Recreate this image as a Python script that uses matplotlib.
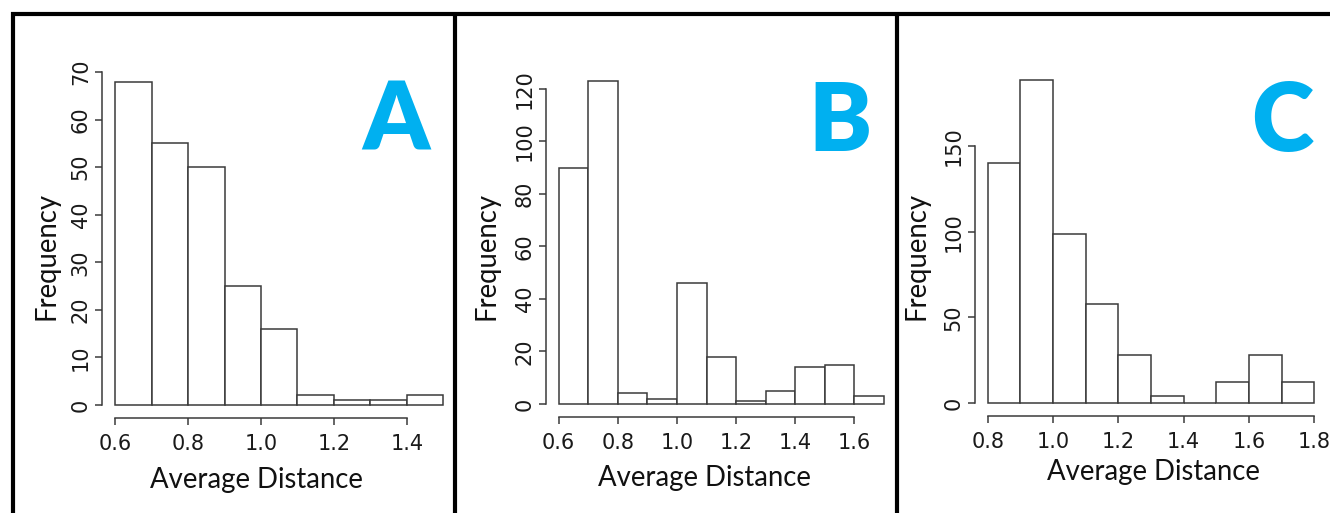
import numpy as np
import matplotlib
matplotlib.use("Agg")
import matplotlib.pyplot as plt
from matplotlib.lines import Line2D

# ---------------- data ----------------
a_edges = [0.6, 0.7, 0.8, 0.9, 1.0, 1.1, 1.2, 1.3, 1.4, 1.5]
a_counts = [68, 55, 50, 25, 16, 2, 1, 1, 2]
a_xticks = [0.6, 0.8, 1.0, 1.2, 1.4]
a_yticks = [0, 10, 20, 30, 40, 50, 60, 70]

b_edges = [0.6, 0.7, 0.8, 0.9, 1.0, 1.1, 1.2, 1.3, 1.4, 1.5, 1.6, 1.7]
b_counts = [90, 123, 4, 2, 46, 18, 1, 5, 14, 15, 3]
b_xticks = [0.6, 0.8, 1.0, 1.2, 1.4, 1.6]
b_yticks = [0, 20, 40, 60, 80, 100, 120]

c_edges = [0.8, 0.9, 1.0, 1.1, 1.2, 1.3, 1.4, 1.5, 1.6, 1.7, 1.8]
c_counts = [140, 189, 99, 58, 28, 4, 0, 12, 28, 12]
c_xticks = [0.8, 1.0, 1.2, 1.4, 1.6, 1.8]
c_yticks = [0, 50, 100, 150]

panel_letters = ["A", "B", "C"]
x_label = "Average Distance"
y_label = "Frequency"

# ---------------- layout (pixels) ----------------
W, H = 1330, 513
DPI = 100
fig = plt.figure(figsize=(W / DPI, H / DPI), dpi=DPI)
fig.patch.set_facecolor("white")

def px_rect(left, top, right, bottom):
    return [left / W, 1 - bottom / H, (right - left) / W, (bottom - top) / H]

# plot regions (left, top, right, bottom) in pixels
rects = [
    (101.9, 68.6, 456.6, 417.9),
    (545.7, 68.2, 897.0, 416.9),
    (974.6, 66.7, 1327.4, 415.9),
]
letter_pos = [(396, 151), (840, 151), (1282, 151)]
xlab_pos = [(256, 488), (704, 486), (1153, 480)]
ylab_pos = [(54, 256), (494, 256), (925, 256)]

LINE = "#3a3a3a"
BLUE = "#00B0F0"
TICK_FONT = "DejaVu Sans"
LABEL_FONT = ["Lato", "DejaVu Sans"]

panels = [
    (a_edges, a_counts, a_xticks, a_yticks),
    (b_edges, b_counts, b_xticks, b_yticks),
    (c_edges, c_counts, c_xticks, c_yticks),
]

for i, (edges, counts, xt, yt) in enumerate(panels):
    ax = fig.add_axes(px_rect(*rects[i]))
    ax.set_facecolor("none")
    edges = np.asarray(edges)
    counts = np.asarray(counts)
    ax.hist(edges[:-1] + 0.05, bins=edges, weights=counts,
            facecolor="white", edgecolor=LINE, linewidth=1.1)
    rng = edges[-1] - edges[0]
    ax.set_xlim(edges[0] - 0.04 * rng, edges[-1] + 0.04 * rng)
    ymax = counts.max()
    ax.set_ylim(-0.04 * ymax, 1.04 * ymax)
    for s in ("top", "right"):
        ax.spines[s].set_visible(False)
    for s in ("left", "bottom"):
        ax.spines[s].set_color(LINE)
        ax.spines[s].set_linewidth(1.1)
    ax.spines["bottom"].set_bounds(xt[0], xt[-1])
    ax.spines["left"].set_bounds(yt[0], yt[-1])
    ax.set_xticks(xt)
    ax.set_xticklabels([f"{v:.1f}" for v in xt], fontsize=15,
                       family=TICK_FONT)
    ax.set_yticks(yt)
    ax.set_yticklabels([str(v) for v in yt], rotation=90, va="center",
                       fontsize=15, family=TICK_FONT)
    ax.tick_params(axis="both", direction="out", length=5, width=1.1,
                   color=LINE, labelcolor="#1a1a1a")
    ax.tick_params(axis="x", pad=6.5)
    ax.tick_params(axis="y", pad=3)

    fig.text(xlab_pos[i][0] / W, 1 - xlab_pos[i][1] / H, x_label,
             ha="center", va="baseline", fontsize=19.8, family=LABEL_FONT,
             color="#111111")
    fig.text(ylab_pos[i][0] / W, 1 - ylab_pos[i][1] / H, y_label,
             ha="center", va="baseline", rotation=90, rotation_mode="anchor",
             fontsize=19.8, family=LABEL_FONT, color="#111111")
    fig.text(letter_pos[i][0] / W, 1 - letter_pos[i][1] / H, panel_letters[i],
             ha="center", va="baseline", fontsize=68, fontweight="heavy",
             family=LABEL_FONT, color=BLUE)

# panel frames
frame_kw = dict(color="black", linewidth=3, solid_capstyle="butt",
                transform=fig.transFigure)
def fx(x):
    return x / W
def fy(y):
    return 1 - y / H
top_y = 14
fig.add_artist(Line2D([fx(11), fx(W)], [fy(top_y), fy(top_y)], **frame_kw))
for xv in (13, 454.5, 896.7):
    fig.add_artist(Line2D([fx(xv), fx(xv)], [fy(12), fy(H)], **frame_kw))

fig.savefig("out.png", dpi=DPI, facecolor="white")
